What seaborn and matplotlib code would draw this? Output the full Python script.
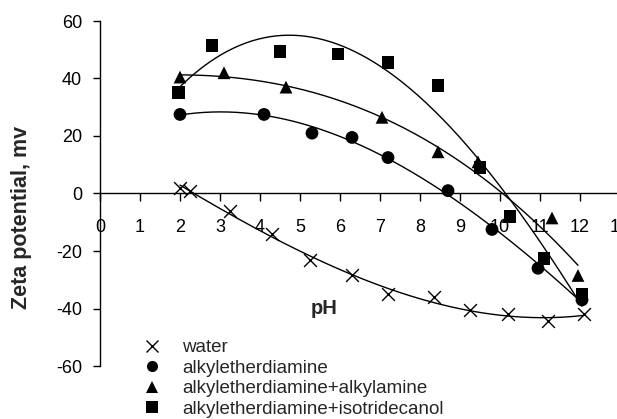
import numpy as np
import pandas as pd
import matplotlib
matplotlib.use("Agg")
import matplotlib.pyplot as plt
import seaborn as sns

# data
water_ph = [2.0, 2.25, 3.25, 4.3, 5.25, 6.3, 7.2, 8.35, 9.25, 10.2, 11.2, 12.1]
water_zeta = [2.0, 1.0, -6.0, -14.0, -23.0, -28.5, -35.0, -36.0, -40.5, -42.0, -44.5, -42.0]

diamine_ph = [2.0, 4.1, 5.3, 6.3, 7.2, 8.7, 9.8, 10.95, 12.05]
diamine_zeta = [27.5, 27.5, 21.0, 19.5, 12.5, 1.0, -12.5, -26.0, -37.0]

amine_ph = [2.0, 3.1, 4.65, 7.05, 8.45, 9.45, 10.2, 11.3, 11.95]
amine_zeta = [40.5, 42.0, 37.0, 26.5, 14.5, 11.0, -8.0, -8.5, -28.5]

decanol_ph = [1.97, 2.8, 4.5, 5.95, 7.2, 8.45, 9.5, 10.25, 11.1, 12.05]
decanol_zeta = [35.0, 51.5, 49.5, 48.5, 45.5, 37.5, 9.0, -8.0, -22.5, -35.0]

labels = ["water", "alkyletherdiamine", "alkyletherdiamine+alkylamine",
          "alkyletherdiamine+isotridecanol"]
markers = ["x", "o", "^", "s"]

sns.set_style("ticks")
plt.rcParams["font.family"] = ["Liberation Sans", "DejaVu Sans"]
plt.rcParams["axes.unicode_minus"] = False

frames = []
for lab, xs, ys in zip(labels,
                       [water_ph, diamine_ph, amine_ph, decanol_ph],
                       [water_zeta, diamine_zeta, amine_zeta, decanol_zeta]):
    frames.append(pd.DataFrame({"pH": xs, "zeta": ys, "sample": lab}))
df = pd.concat(frames, ignore_index=True)

fig = plt.figure(figsize=(6.17, 4.19), dpi=100)
ax = fig.add_axes([100 / 617, 53 / 419, 520 / 617, 345 / 419])

# polynomial trendlines
for lab in labels:
    d = df[df["sample"] == lab]
    coef = np.polyfit(d["pH"], d["zeta"], 3)
    xx = np.linspace(d["pH"].min(), d["pH"].max(), 200)
    ax.plot(xx, np.polyval(coef, xx), color="black", lw=1.0, zorder=2)

filled = df[df["sample"] != "water"]
sns.scatterplot(data=filled, x="pH", y="zeta", hue="sample", style="sample",
                markers=dict(zip(labels[1:], markers[1:])),
                palette=dict(zip(labels[1:], ["black"] * 3)),
                s=85, linewidth=0, ax=ax, zorder=3, legend=False)
xd = df[df["sample"] == "water"]
ax.scatter(xd["pH"], xd["zeta"], marker="x", s=85, color="black",
           linewidths=1.0, zorder=4)

ax.set_xlim(0, 13)
ax.set_ylim(-60, 60)
ax.set_xticks(range(0, 14))
ax.set_yticks(range(-60, 61, 20))
ax.spines["left"].set_position(("data", 0))
ax.spines["bottom"].set_position(("data", 0))
ax.spines["top"].set_visible(False)
ax.spines["right"].set_visible(False)
for s in ["left", "bottom"]:
    ax.spines[s].set_linewidth(1.0)
    ax.spines[s].set_color("black")
ax.tick_params(axis="x", direction="out", length=6, width=1, pad=12,
               labelsize=13, colors="black")
ax.tick_params(axis="y", direction="out", length=5, width=1, pad=8,
               labelsize=13, colors="black")
ax.set_xlabel("")
ax.set_ylabel("")
ax.text(5.6, -40, "pH", fontsize=14.5, fontweight="bold", ha="center", va="center")
fig.text(22 / 617, 1 - 217 / 419, "Zeta potential, mv", rotation=90,
         fontsize=15.5, fontweight="bold", ha="center", va="center")

handles = []
for lab, m in zip(labels, markers):
    h = plt.Line2D([], [], marker=m, ls="", color="black", markersize=8,
                   markeredgewidth=1.0 if m == "x" else 0)
    handles.append(h)
fig.legend(handles, labels, loc="upper left",
           bbox_to_anchor=(143 / 617, 1 - 339 / 419), frameon=False,
           fontsize=13.5, labelspacing=0.18, handlelength=1.0,
           handletextpad=1.1, borderpad=0, borderaxespad=0)

fig.savefig("out.png", dpi=100)
